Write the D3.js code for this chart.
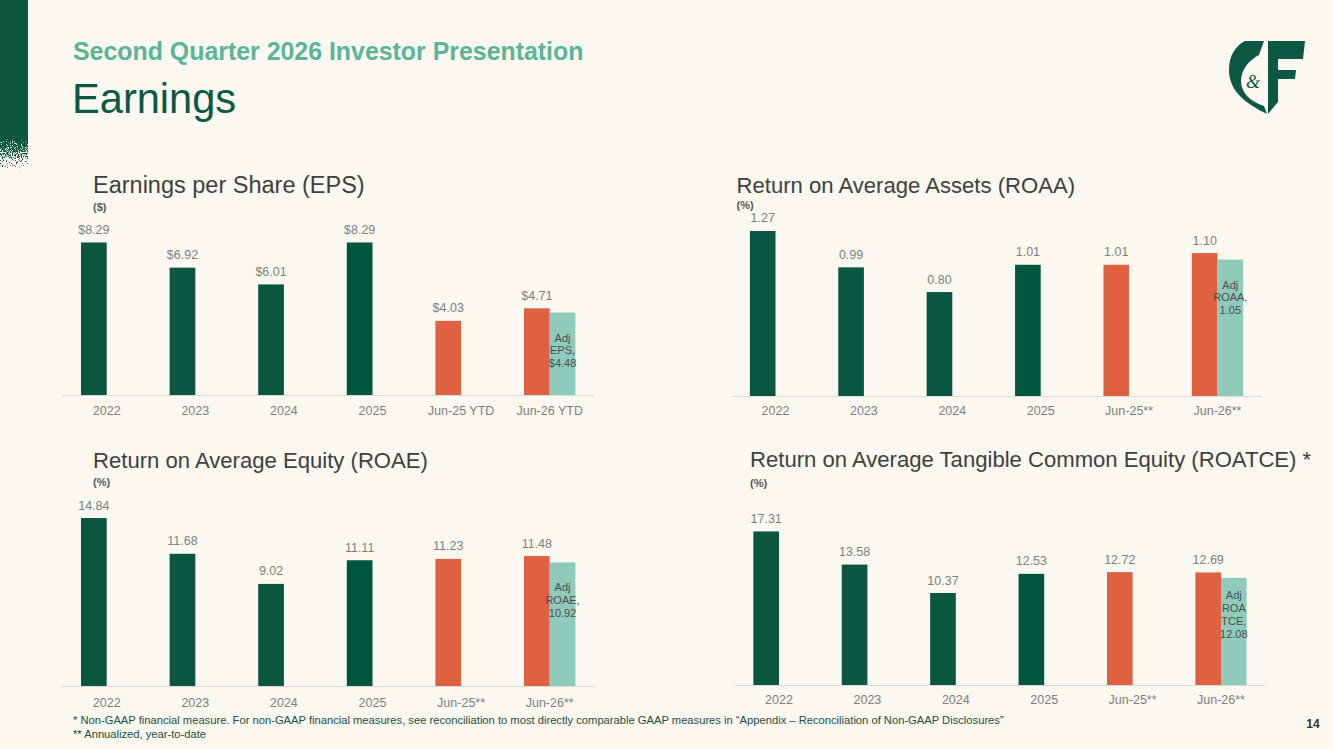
<!DOCTYPE html>
<html>
<head>
<meta charset="utf-8">
<script src="https://cdn.jsdelivr.net/npm/d3@7"></script>
<style>
  html, body { margin: 0; padding: 0; background: #faf8f0; }
  svg { display: block; font-family: "Liberation Sans", Arial, sans-serif; }
</style>
</head>
<body>
<svg id="slide" width="1333" height="749"></svg>
<script>
// Earnings slide: four small bar charts (EPS, ROAA, ROAE, ROATCE)

// ---- data ----
var epsCategories = ["2022", "2023", "2024", "2025", "Jun-25 YTD", "Jun-26 YTD"];
var ratioCategories = ["2022", "2023", "2024", "2025", "Jun-25**", "Jun-26**"];

var epsValues = [8.29, 6.92, 6.01, 8.29, 4.03, 4.71];
var epsAdjusted = [null, null, null, null, null, 4.48];

var roaaValues = [1.27, 0.99, 0.80, 1.01, 1.01, 1.10];
var roaaAdjusted = [null, null, null, null, null, 1.05];

var roaeValues = [14.84, 11.68, 9.02, 11.11, 11.23, 11.48];
var roaeAdjusted = [null, null, null, null, null, 10.92];

var roatceValues = [17.31, 13.58, 10.37, 12.53, 12.72, 12.69];
var roatceAdjusted = [null, null, null, null, null, 12.08];

var footnotes = [
    "*  Non-GAAP financial measure.  For non-GAAP financial measures, see reconciliation to most directly comparable GAAP measures in \u201cAppendix \u2013 Reconciliation of Non-GAAP Disclosures\u201d",
    "** Annualized, year-to-date"
];

// ---- colours ----
var green = "#0b5641";
var green2025 = "#00573e";
var orange = "#e0613f";
var teal = "#8fcbbb";
var barColors = [green, green, green, green2025, orange, orange];

var svg = d3.select("#slide");

var money = function(v) { return "$" + v.toFixed(2); };
var plain = function(v) { return v.toFixed(2); };

// panel layout (positions only, values come from arrays above)
var panels = [
    { title: "Earnings per Share (EPS)", titleSize: 23.5, unit: "($)", cats: epsCategories, values: epsValues,
      adj: epsAdjusted, adjLines: ["Adj", "EPS,"], fmt: money,
      x0: 62.4, x1: 594, baseY: 395, yMax: 9, plotH: 165.6, titleX: 93, titleY: 193.3, unitY: 211, catY: 415, adjDy: 29 },
    { title: "Return on Average Assets (ROAA)", titleSize: 22.1, unit: "(%)", cats: ratioCategories, values: roaaValues,
      adj: roaaAdjusted, adjLines: ["Adj", "ROAA,"], fmt: plain,
      x0: 731.3, x1: 1261.7, baseY: 396, yMax: 1.4, plotH: 181.9, titleX: 736.5, titleY: 192.7, unitY: 209, catY: 415, adjDy: 29 },
    { title: "Return on Average Equity (ROAE)", titleSize: 22.1, unit: "(%)", cats: ratioCategories, values: roaeValues,
      adj: roaeAdjusted, adjLines: ["Adj", "ROAE,"], fmt: plain,
      x0: 62.4, x1: 594, baseY: 686, yMax: 16, plotH: 181.1, titleX: 93, titleY: 468.3, unitY: 486, catY: 706.5, adjDy: 29 },
    { title: "Return on Average Tangible Common Equity (ROATCE) *", titleSize: 22.1, unit: "(%)", cats: ratioCategories, values: roatceValues,
      adj: roatceAdjusted, adjLines: ["Adj", "ROA", "TCE,"], fmt: plain,
      x0: 734.8, x1: 1265.2, baseY: 685, yMax: 20, plotH: 177.4, titleX: 750, titleY: 467.3, unitY: 487, catY: 703.5, adjDy: 21.5 }
];

/**
 * Background, ragged green strip on the left, headings and logo
 */
function drawFrame() {
    svg.append("rect").attr("width", 1333).attr("height", 749).attr("fill", "#faf8f0");

    var defs = svg.append("defs");
    var grad = defs.append("linearGradient").attr("id", "stripFade")
        .attr("x1", 0).attr("y1", 0).attr("x2", 0).attr("y2", 1);
    grad.append("stop").attr("offset", "0.58").attr("stop-color", green).attr("stop-opacity", 1);
    grad.append("stop").attr("offset", "1").attr("stop-color", green).attr("stop-opacity", 0);

    // speckled edge using noise + alpha threshold
    var f = defs.append("filter").attr("id", "grain").attr("x", 0).attr("y", 0).attr("width", 1).attr("height", 1);
    f.append("feTurbulence").attr("type", "fractalNoise").attr("baseFrequency", 0.8).attr("numOctaves", 2).attr("seed", 3).attr("result", "noise");
    f.append("feComposite").attr("in", "SourceGraphic").attr("in2", "noise").attr("operator", "arithmetic")
        .attr("k1", 0).attr("k2", 1).attr("k3", 0.8).attr("k4", -0.3).attr("result", "mix");
    var ct = f.append("feComponentTransfer").attr("in", "mix").attr("result", "cut");
    ct.append("feFuncA").attr("type", "linear").attr("slope", 12).attr("intercept", -5.5);
    f.append("feFlood").attr("flood-color", green).attr("result", "col");
    f.append("feComposite").attr("in", "col").attr("in2", "cut").attr("operator", "in");

    svg.append("rect").attr("x", 0).attr("y", 0).attr("width", 28).attr("height", 185)
        .attr("fill", "url(#stripFade)").attr("filter", "url(#grain)");

    svg.append("text").attr("x", 73).attr("y", 60)
        .attr("font-size", 24.9).attr("font-weight", "bold").attr("fill", "#5bb598")
        .text("Second Quarter 2026 Investor Presentation");

    svg.append("text").attr("x", 72).attr("y", 113.3)
        .attr("font-size", 41.6).attr("fill", "#0d5843")
        .text("Earnings");

    // C&F logo
    var logo = svg.append("g").attr("fill", "#0d5843");
    logo.append("path").attr("d",
        "M1245,41 L1264,41 L1259,55 C1249,60 1241,70 1241,81 C1241,93 1251,102 1264,106 L1267,114 " +
        "C1247,104 1229,92 1229,70 C1229,56 1235,46 1245,41 Z");
    logo.append("path").attr("d",
        "M1268,41 L1305,41 L1303,59 L1278,59 L1278,70 L1296,70 L1295,79 L1278,79 L1278,102 L1268,114 Z");
    logo.append("text").attr("x", 1253).attr("y", 88).attr("text-anchor", "middle")
        .attr("font-family", "'Liberation Serif', 'DejaVu Serif', serif").attr("font-style", "italic")
        .attr("font-size", 18).text("&");

    // footnotes and page number
    svg.selectAll(".footnote").data(footnotes).enter().append("text")
        .attr("class", "footnote")
        .attr("x", 73).attr("y", function(d, i) { return 724 + i * 14; })
        .attr("font-size", 11.2).attr("fill", "#1d4f3e")
        .text(function(d) { return d; });

    svg.append("text").attr("x", 1313).attr("y", 728).attr("text-anchor", "middle")
        .attr("font-size", 12).attr("font-weight", "bold").attr("fill", "#333")
        .text("14");
}

/**
 * One bar panel: main bars, adjusted bar next to the last one, labels and axis
 */
function drawPanel(p) {
    var g = svg.append("g").attr("class", "panel");

    var x = d3.scaleBand().domain(p.cats).range([p.x0, p.x1]).padding(0);
    var y = d3.scaleLinear().domain([0, p.yMax]).range([p.baseY, p.baseY - p.plotH]);
    var step = x.bandwidth();
    var bw = step * 0.29;
    var center = function(c) { return x(c) + step / 2; };

    g.append("text").attr("x", p.titleX).attr("y", p.titleY)
        .attr("font-size", p.titleSize).attr("fill", "#404040").text(p.title);
    g.append("text").attr("x", p.titleX).attr("y", p.unitY)
        .attr("font-size", 11).attr("font-weight", "bold").attr("fill", "#595959").text(p.unit);

    var rows = p.cats.map(function(c, i) {
        return { cat: c, value: p.values[i], adj: p.adj[i], color: barColors[i] };
    });

    // main bars (left slot of each category)
    g.selectAll(".bar").data(rows).enter().append("rect")
        .attr("class", "bar")
        .attr("x", function(d) { return center(d.cat) - bw; })
        .attr("y", function(d) { return y(d.value); })
        .attr("width", bw)
        .attr("height", function(d) { return y(0) - y(d.value); })
        .attr("fill", function(d) { return d.color; });

    g.selectAll(".value").data(rows).enter().append("text")
        .attr("class", "value")
        .attr("x", function(d) { return center(d.cat) - bw / 2; })
        .attr("y", function(d) { return y(d.value) - 8.5; })
        .attr("text-anchor", "middle").attr("font-size", 12.5).attr("fill", "#7f7f7f")
        .text(function(d) { return p.fmt(d.value); });

    // adjusted (non-GAAP) bar, right slot
    var adjRows = rows.filter(function(d) { return d.adj != null; });
    g.selectAll(".adj").data(adjRows).enter().append("rect")
        .attr("class", "adj")
        .attr("x", function(d) { return center(d.cat); })
        .attr("y", function(d) { return y(d.adj); })
        .attr("width", bw)
        .attr("height", function(d) { return y(0) - y(d.adj); })
        .attr("fill", teal);

    adjRows.forEach(function(d) {
        var lines = p.adjLines.concat([p.fmt(d.adj)]);
        g.append("g").selectAll("text").data(lines).enter().append("text")
            .attr("x", center(d.cat) + bw / 2)
            .attr("y", function(t, i) { return y(d.adj) + p.adjDy + i * 12.8; })
            .attr("text-anchor", "middle").attr("font-size", 11).attr("fill", "#4d4d4d")
            .text(function(t) { return t; });
    });

    // category axis
    g.append("line")
        .attr("x1", p.x0).attr("x2", p.x1).attr("y1", y(0) + 0.5).attr("y2", y(0) + 0.5)
        .attr("stroke", "#d9d9d9").attr("stroke-width", 1);

    g.selectAll(".cat").data(p.cats).enter().append("text")
        .attr("class", "cat")
        .attr("x", function(c) { return center(c); })
        .attr("y", p.catY)
        .attr("text-anchor", "middle").attr("font-size", 12.5).attr("fill", "#7f7f7f")
        .text(function(c) { return c; });
}

drawFrame();
panels.forEach(drawPanel);
</script>
</body>
</html>
